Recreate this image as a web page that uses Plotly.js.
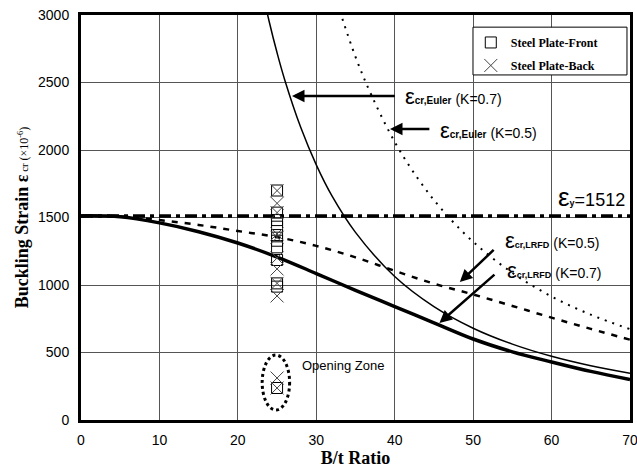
<!DOCTYPE html>
<html>
<head>
<meta charset="utf-8">
<script src="https://cdn.plot.ly/plotly-3.0.1.min.js"></script>
<style>html,body{margin:0;padding:0;background:#fff;}#chart{width:637px;height:469px;}</style>
</head>
<body>
<div id="chart"></div>
<script>
// B/t ratios and strains (x10^-6)
const btLRFD = [0, 5, 10, 15, 20, 25, 30, 35, 40, 45, 50, 55, 60, 65, 70];
const lrfdK07 = [1512, 1505, 1460, 1395, 1311, 1207, 1085, 960, 840, 720, 600, 505, 430, 360, 300];
const lrfdK05 = [1512, 1508, 1481, 1445, 1400, 1355, 1290, 1205, 1105, 1010, 930, 845, 758, 675, 595];

const btEulerK07 = [23.2, 24, 25, 26, 28, 30, 32, 35, 40, 45, 50, 55, 60, 65, 70];
const eulerK07 = [3160, 2950, 2720, 2515, 2170, 1890, 1660, 1390, 1063, 840, 680, 562, 472, 402, 347];

const btEulerK05 = [33, 35, 37, 40, 43, 46, 50, 55, 60, 65, 70];
const eulerK05 = [3030, 2690, 2410, 2060, 1785, 1560, 1320, 1090, 915, 780, 673];

const yieldX = [0, 70];
const yieldStrain = 1512;

const testBt = 25;
const frontStrain = [1700, 1536, 1481, 1432, 1370, 1328, 1279, 1185, 1012, 988, 237];
const backStrain = [1699, 1605, 1536, 1378, 1353, 1200, 1119, 1012, 919, 311, 237];

const xTicks = [0, 10, 20, 30, 40, 50, 60, 70];
const yTicks = [0, 500, 1000, 1500, 2000, 2500, 3000];

const traces = [
  {x: btEulerK07, y: eulerK07, mode: 'lines', line: {color: '#000', width: 1.5, shape: 'spline'}, showlegend: false, hoverinfo: 'skip'},
  {x: btEulerK05, y: eulerK05, mode: 'lines', line: {color: '#000', width: 2, dash: '2px,6px', shape: 'spline'}, showlegend: false, hoverinfo: 'skip'},
  {x: btLRFD, y: lrfdK05, mode: 'lines', line: {color: '#000', width: 2.5, dash: '6px,7px', shape: 'spline'}, showlegend: false, hoverinfo: 'skip'},
  {x: btLRFD, y: lrfdK07, mode: 'lines', line: {color: '#000', width: 3.5, shape: 'spline'}, showlegend: false, hoverinfo: 'skip'},
  {x: yieldX, y: yieldX.map(() => yieldStrain), mode: 'lines', line: {color: '#000', width: 3.5, dash: '12px,5px,4px,5px'}, showlegend: false, hoverinfo: 'skip'},
  {x: frontStrain.map(() => testBt), y: frontStrain, mode: 'markers', name: 'Steel Plate-Front', legendgroup: 'a',
   marker: {symbol: 'square-open', size: 11, color: '#000', line: {width: 1, color: '#000'}}},
  {x: backStrain.map(() => testBt), y: backStrain, mode: 'markers', name: 'Steel Plate-Back', legendgroup: 'b',
   marker: {symbol: 'x-thin-open', size: 13, color: '#444', line: {width: 1, color: '#444'}}}
];

const big = (s) => "<span style='font-size:22px'>" + s + "</span>";
const sub = (s, fs) => "<span style='font-size:" + fs + "px;font-weight:bold'>" + s + "</span>";
const lblFont = {family: 'Liberation Sans, Arial, sans-serif', size: 14, color: '#000'};

function arrow(hx, hy, tx, ty) {
  return {x: hx, y: hy, ax: tx, ay: ty, axref: 'x', ayref: 'y', xref: 'x', yref: 'y',
    text: ' ', showarrow: true, arrowhead: 2, arrowsize: 1, arrowwidth: 2.5, arrowcolor: '#000', standoff: 0, startstandoff: 0};
}
function label(x, y, text) {
  return {x: x, y: y, xref: 'x', yref: 'y', text: text, showarrow: false, xanchor: 'left', yanchor: 'middle', font: lblFont};
}

const annotations = [
  arrow(26.9, 2400, 40.4, 2400),
  arrow(39.4, 2156, 44.8, 2156),
  arrow(48.3, 1022, 53.0, 1281),
  arrow(45.7, 719, 53.1, 1096),
  label(41.0, 2400, big('ε') + sub('cr,Euler', 10) + ' (K=0.7)'),
  label(45.5, 2148, big('ε') + sub('cr,Euler', 10) + ' (K=0.5)'),
  label(60.6, 1650, "<span style='font-size:26px'>ε</span>" + sub('y', 9) + "<span style='font-size:18px'>=1512</span>"),
  label(53.8, 1333, big('ε') + sub('cr,LRFD', 9) + ' (K=0.5)'),
  label(54.0, 1111, big('ε') + sub('cr,LRFD', 9) + ' (K=0.7)'),
  {x: 27.9, y: 407, xref: 'x', yref: 'y', text: 'Opening Zone', showarrow: false, xanchor: 'left', yanchor: 'middle',
   font: {family: 'Liberation Sans, Arial, sans-serif', size: 13, color: '#000'}}
];

const shapes = [
  {type: 'circle', xref: 'x', yref: 'y', x0: 23.1, x1: 26.6, y0: 74, y1: 481,
   line: {color: '#000', width: 3, dash: '3px,3px'}},
  {type: 'rect', xref: 'paper', yref: 'paper', x0: 0.714, x1: 0.9945, y0: 0.852, y1: 0.970,
   fillcolor: '#fff', line: {color: '#000', width: 1}, layer: 'above'}
];

const layout = {
  width: 637, height: 469,
  margin: {l: 81, r: 7, t: 15, b: 49},
  paper_bgcolor: '#fff', plot_bgcolor: '#fff',
  font: {family: 'Liberation Sans, Arial, sans-serif', color: '#000'},
  showlegend: true,
  legend: {x: 0.71, y: 0.968, xanchor: 'left', yanchor: 'top', bgcolor: 'rgba(0,0,0,0)', borderwidth: 0,
    traceorder: 'grouped', tracegroupgap: 4,
    font: {family: 'Liberation Serif, Times New Roman, serif', size: 12, color: '#000', weight: 'bold'}},
  xaxis: {range: [0, 70], tickvals: xTicks, ticktext: xTicks.map(String), showgrid: true, gridcolor: '#555', gridwidth: 1,
    zeroline: false, showline: true, linecolor: '#000', linewidth: 3, mirror: true, ticks: '',
    ticklabeloverflow: 'allow', ticklabelstandoff: 5,
    tickfont: {size: 14, family: 'Liberation Sans, Arial, sans-serif', color: '#000'},
    title: {text: '<b>B/t Ratio</b>', font: {family: 'Liberation Serif, Times New Roman, serif', size: 18, color: '#000'}, standoff: 4},
    automargin: false},
  yaxis: {range: [0, 3000], tickvals: yTicks, ticktext: yTicks.map(String), showgrid: true, gridcolor: '#555', gridwidth: 1,
    zeroline: false, showline: true, linecolor: '#000', linewidth: 3, mirror: true, ticks: '',
    ticklabeloverflow: 'allow', ticklabelstandoff: 6,
    tickfont: {size: 14, family: 'Liberation Sans, Arial, sans-serif', color: '#000'},
    title: {text: "<b>Buckling Strain ε</b><span style='font-size:11px'> cr </span><span style='font-size:12px'>(×10<sup>-6</sup>)</span>",
      font: {family: 'Liberation Serif, Times New Roman, serif', size: 18, color: '#000'}, standoff: 5},
    automargin: false},
  annotations: annotations,
  shapes: shapes
};

Plotly.newPlot('chart', traces, layout, {displayModeBar: false, staticPlot: true});
</script>
</body>
</html>
